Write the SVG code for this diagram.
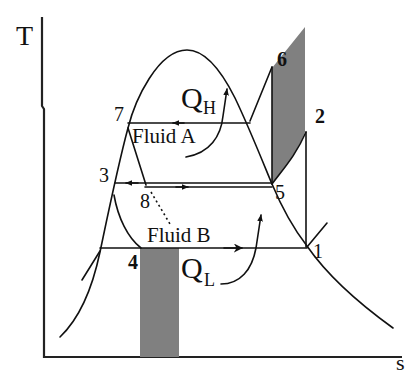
<svg xmlns="http://www.w3.org/2000/svg" width="406" height="374" viewBox="0 0 406 374">
<style>
.ln{fill:none;stroke:#111;stroke-width:1.6;stroke-linejoin:round;stroke-linecap:round}
.ax{fill:none;stroke:#222;stroke-width:2.2}
.sh{fill:#808080;stroke:none}
.dot{fill:none;stroke:#111;stroke-width:1.6;stroke-dasharray:2 3}
.lab{font-family:"Liberation Serif","Times New Roman",serif;fill:#111}
.num{font-family:"Liberation Serif","Times New Roman",serif;font-size:20px;fill:#111}
</style>
<defs>
<marker id="ah" viewBox="0 0 10 10" refX="9" refY="5" markerWidth="7" markerHeight="7" orient="auto" markerUnits="userSpaceOnUse">
<path d="M0,1 L10,5 L0,9 Z" fill="#111"/>
</marker>
<marker id="ahb" viewBox="0 0 10 10" refX="9" refY="5" markerWidth="9" markerHeight="9" orient="auto" markerUnits="userSpaceOnUse">
<path d="M0,0 L10,5 L0,10 L3,5 Z" fill="#111"/>
</marker>
</defs>
<rect width="406" height="374" fill="#fff"/>
<g id="axes">
<path class="ax" d="M42,17 L42,106 L44,109 L44,357 L402,357"/>
<text class="lab" x="16" y="45" font-size="28">T</text>
<text class="lab" x="396" y="370" font-size="22">s</text>
</g>
<g id="shading">
<rect id="area-low" class="sh" x="140" y="248" width="39" height="109"/>
<path id="area-high" class="sh" d="M272,68 L305,27 L305,132 C296,155 284,168 272,184 Z"/>
</g>
<g id="domes">
<path id="dome-main" class="ln" d="M60,337 C80,318 92,290 100,252 C108,214 118,165 128,128 C135,100 158,50 187,50 C205,50 222,72 235,98 C248,125 262,160 272,184 C282,208 293,228 307,246 C325,272 350,297 393,328"/>
<path id="dome-inner" class="ln" d="M114,195 C118,218 128,238 141,248"/>
<path id="tick-left" class="ln" d="M82,280 L100,251"/>
<path id="tick-1" class="ln" d="M307,247 L327,223"/>
</g>
<g id="connectors">
<path id="l-6-dome" class="ln" d="M272,67 L250,121"/>
<path id="l-5-6" class="ln" d="M272,67 L272,184"/>
<path id="l-5-2" class="ln" d="M272,184 C284,168 296,155 306,132"/>
<path id="l-2-1" class="ln" d="M306,132 L306,247"/>
<path id="l-7" class="ln" d="M128,123 L250,123"/>
<path id="l-7-8" class="ln" d="M128,128 L146,185"/>
<path id="l-8-dot" class="dot" d="M151,192 L170,224"/>
<path id="l-3-5" class="ln" d="M115,183 L272,183"/>
<path id="l-8-5" class="ln" d="M145,187 L272,187"/>
<path id="l-4-1" class="ln" d="M100,248 L307,248"/>
<path class="ln" d="M184,123 L173,123" marker-end="url(#ah)"/>
<path class="ln" d="M138,183 L126,183" marker-end="url(#ah)"/>
<path class="ln" d="M176,187 L188,187" marker-end="url(#ah)"/>
<path class="ln" d="M224,248 L242,248" marker-end="url(#ahb)"/>
<path id="qh-arrow" class="ln" d="M186,157 C210,153 221,136 223,116 L227,89" marker-end="url(#ah)"/>
<path id="ql-arrow" class="ln" d="M221,284 C240,284 252,270 256,248 L261,215" marker-end="url(#ah)"/>
</g>
<g id="labels">
<text class="lab" x="181" y="108" font-size="30">Q</text>
<text class="lab" x="203" y="114" font-size="18">H</text>
<text class="lab" x="181" y="278" font-size="30">Q</text>
<text class="lab" x="204" y="286" font-size="18">L</text>
<text class="lab" x="132" y="143" font-size="21">Fluid A</text>
<text class="lab" x="147" y="242" font-size="21">Fluid B</text>
<text class="num" x="114" y="121">7</text>
<text class="num" x="99" y="182">3</text>
<text class="num" x="140" y="208">8</text>
<text class="num" x="128" y="269" font-weight="bold">4</text>
<text class="num" x="275" y="199">5</text>
<text class="num" x="277" y="66" font-weight="bold">6</text>
<text class="num" x="315" y="123" font-weight="bold">2</text>
<text class="num" x="313" y="258">1</text>
</g>
</svg>
